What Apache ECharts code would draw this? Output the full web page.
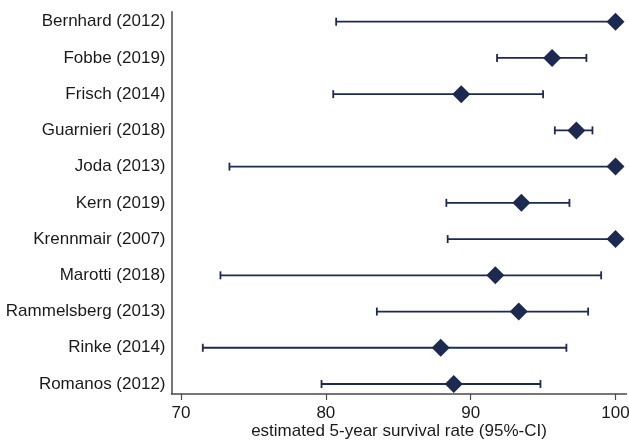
<!DOCTYPE html>
<html>
<head>
<meta charset="utf-8">
<script src="https://cdn.jsdelivr.net/npm/echarts@6/dist/echarts.min.js"></script>
<style>html,body{margin:0;padding:0;background:#fff}#c{width:629px;height:440px}</style>
</head>
<body>
<div id="c"></div>
<script>
const studies = ['Bernhard (2012)','Fobbe (2019)','Frisch (2014)','Guarnieri (2018)','Joda (2013)','Kern (2019)','Krennmair (2007)','Marotti (2018)','Rammelsberg (2013)','Rinke (2014)','Romanos (2012)'];
const estimate = [100, 95.62, 89.35, 97.30, 100, 93.50, 100, 91.70, 93.32, 87.93, 88.83];
const lowerCI  = [80.71, 91.82, 80.51, 95.81, 73.34, 88.32, 88.41, 72.72, 83.52, 71.50, 79.70];
const upperCI  = [100, 97.99, 95.00, 98.41, 100, 96.82, 100, 99.01, 98.11, 96.61, 94.82];
const xTicks = [70, 80, 90, 100];
const xTitle = 'estimated 5-year survival rate (95%-CI)';

const navy = '#1c2a52';
const font = 'Arial, "Liberation Sans", sans-serif';
const rowIdx = studies.map((s, i) => i);

const chart = echarts.init(document.getElementById('c'), null, {renderer: 'canvas'});
chart.setOption({
  animation: false,
  backgroundColor: '#fff',
  grid: {left: 171.5, right: 2.5, top: 11.7, bottom: 46, containLabel: false, outerBoundsMode: 'none'},
  xAxis: {
    type: 'value', min: 69.34, max: 100.76,
    axisLine: {show: true, onZero: false, lineStyle: {color: '#4a4a4a', width: 1.5}},
    axisTick: {show: true, length: 6, customValues: xTicks, lineStyle: {color: '#4a4a4a', width: 1.2}},
    axisLabel: {customValues: xTicks, margin: 11, fontSize: 17, color: '#1a1a1a', fontFamily: font},
    splitLine: {show: false},
    name: xTitle, nameLocation: 'middle', nameGap: 29, nameMoveOverlap: false,
    nameTextStyle: {fontSize: 17, color: '#1a1a1a', fontFamily: font}
  },
  yAxis: {
    type: 'value', inverse: true, min: -0.276, max: 10.276,
    axisLine: {show: true, onZero: false, lineStyle: {color: '#4a4a4a', width: 1.5}},
    axisTick: {show: false},
    axisLabel: {customValues: rowIdx, margin: 6, fontSize: 17, color: '#1a1a1a', fontFamily: font,
      formatter: v => studies[Math.round(v)] || ''},
    splitLine: {show: false}
  },
  series: [
    {
      type: 'custom',
      data: rowIdx.map(i => [lowerCI[i], upperCI[i], i]),
      renderItem: function (params, api) {
        const lo = api.coord([api.value(0), api.value(2)]);
        const hi = api.coord([api.value(1), api.value(2)]);
        const h = 4;
        const st = {stroke: navy, lineWidth: 1.8};
        return {type: 'group', children: [
          {type: 'line', shape: {x1: lo[0], y1: lo[1], x2: hi[0], y2: hi[1]}, style: st},
          {type: 'line', shape: {x1: lo[0], y1: lo[1] - h, x2: lo[0], y2: lo[1] + h}, style: st},
          {type: 'line', shape: {x1: hi[0], y1: hi[1] - h, x2: hi[0], y2: hi[1] + h}, style: st}
        ]};
      },
      z: 2
    },
    {
      type: 'scatter',
      symbol: 'diamond',
      symbolSize: [18, 18],
      itemStyle: {color: navy, opacity: 1},
      data: rowIdx.map(i => [estimate[i], i]),
      z: 3
    }
  ]
});
</script>
</body>
</html>
